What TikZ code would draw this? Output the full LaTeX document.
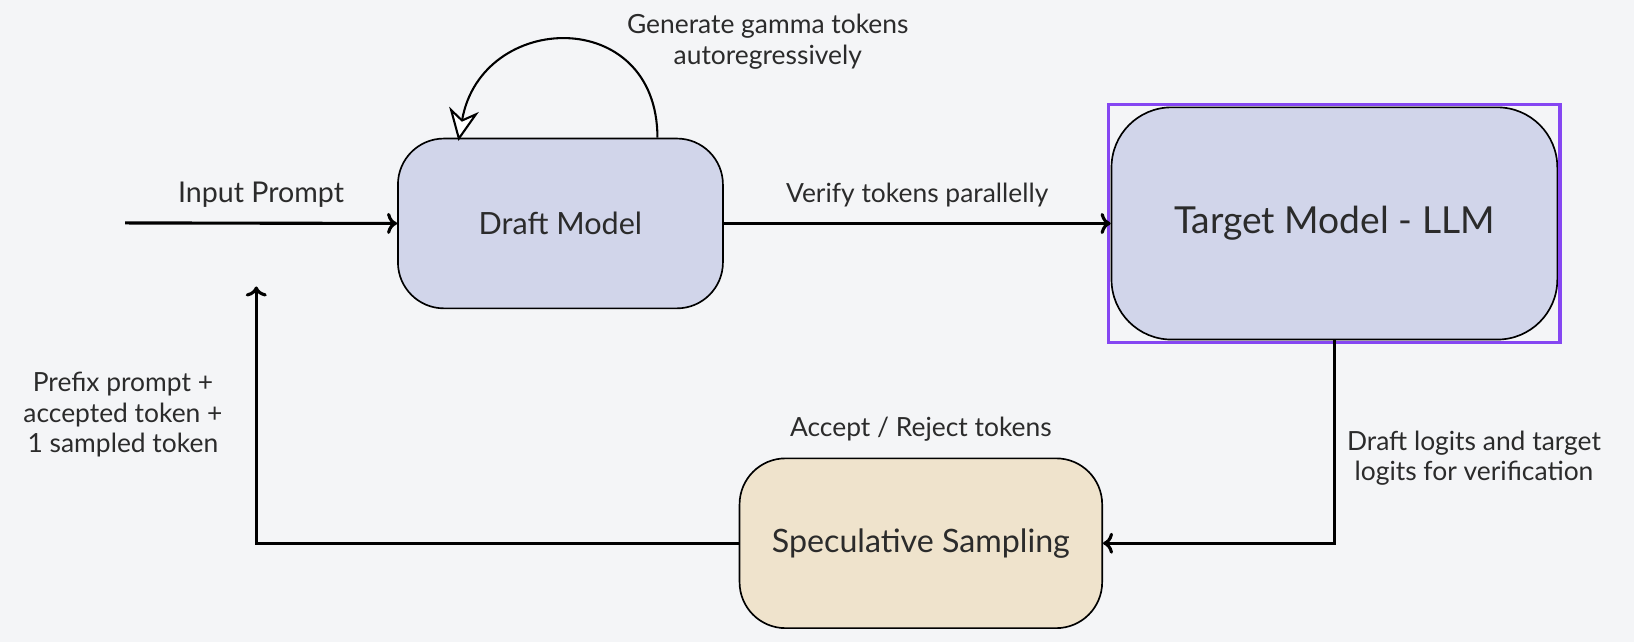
\documentclass[tikz,border=0pt]{standalone}
\usepackage{fontspec}
\setmainfont{Lato}
\usetikzlibrary{arrows.meta}

\definecolor{bgcol}{HTML}{F4F5F7}
\definecolor{lavender}{HTML}{D1D5EA}
\definecolor{sand}{HTML}{EFE3CC}
\definecolor{selpurple}{HTML}{8546F2}
\definecolor{inkgray}{HTML}{2B2B2B}

\tikzset{
    modelbox/.style={draw=black, line width=0.83pt, rounded corners=23pt, text=inkgray, inner sep=0pt},
    flow/.style={->, line width=1.56pt},
    lbl/.style={text=inkgray, align=center, font=\fontsize{13.2}{15.1}\selectfont},
}

\begin{document}
\begin{tikzpicture}[x=0.52085pt, y=-0.52085pt]
    \fill[bgcol](0,0)rectangle(1568.6,616.3);
    \useasboundingbox(0,0)rectangle(1568.6,616.3);

    \node[modelbox, fill=lavender, minimum width=162.5pt, minimum height=84.9pt, font=\fontsize{15.3}{17}\selectfont](draft) at (538,214.5){Draft Model};
    \node[modelbox, fill=lavender, minimum width=222.9pt, minimum height=116.1pt, rounded corners=30pt, font=\fontsize{18.6}{21}\selectfont](target) at (1281,214.5){Target Model - LLM};
    \node[modelbox, fill=sand, minimum width=181.3pt, minimum height=84.9pt, font=\fontsize{16.1}{18}\selectfont](spec) at (884,521.5){Speculative Sampling};

    \draw[selpurple, line width=1.8pt]([shift={(-2,-2)}]target.north west)rectangle([shift={(2,2)}]target.south east);

    \coordinate(prompt) at (120,214);
    \coordinate(back) at (246,275);
    \coordinate(loopA) at ([xshift=48.5pt]draft.north);
    \coordinate(loopB) at ([xshift=-51pt,yshift=-1.6pt]draft.north);

    \draw[flow](prompt)--(draft.west)node[lbl, midway, above=4pt, font=\fontsize{14.3}{16}\selectfont]{Input Prompt};
    \draw[flow](draft.east)--(target.west)node[lbl, midway, above=4pt]{Verify tokens parallelly};
    \draw[flow](target.south)|-(spec.east);
    \draw[flow](spec.west)-|(back);

    \draw[line width=1.04pt, -{Stealth[fill=white, length=16pt, width=15pt, inset=5pt]}](loopA)to[out=90, in=80, looseness=1.7](loopB);

    \node[lbl](genlbl) at (737,40){Generate gamma tokens\\autoregressively};
    \node[lbl](acclbl) at (884,412){Accept / Reject tokens};
    \node[lbl](logitlbl) at (1415,440){Draft logits and target\\logits for verification};
    \node[lbl](prefixlbl) at (118,398){Prefix prompt +\\accepted token +\\1 sampled token};
\end{tikzpicture}
\end{document}
